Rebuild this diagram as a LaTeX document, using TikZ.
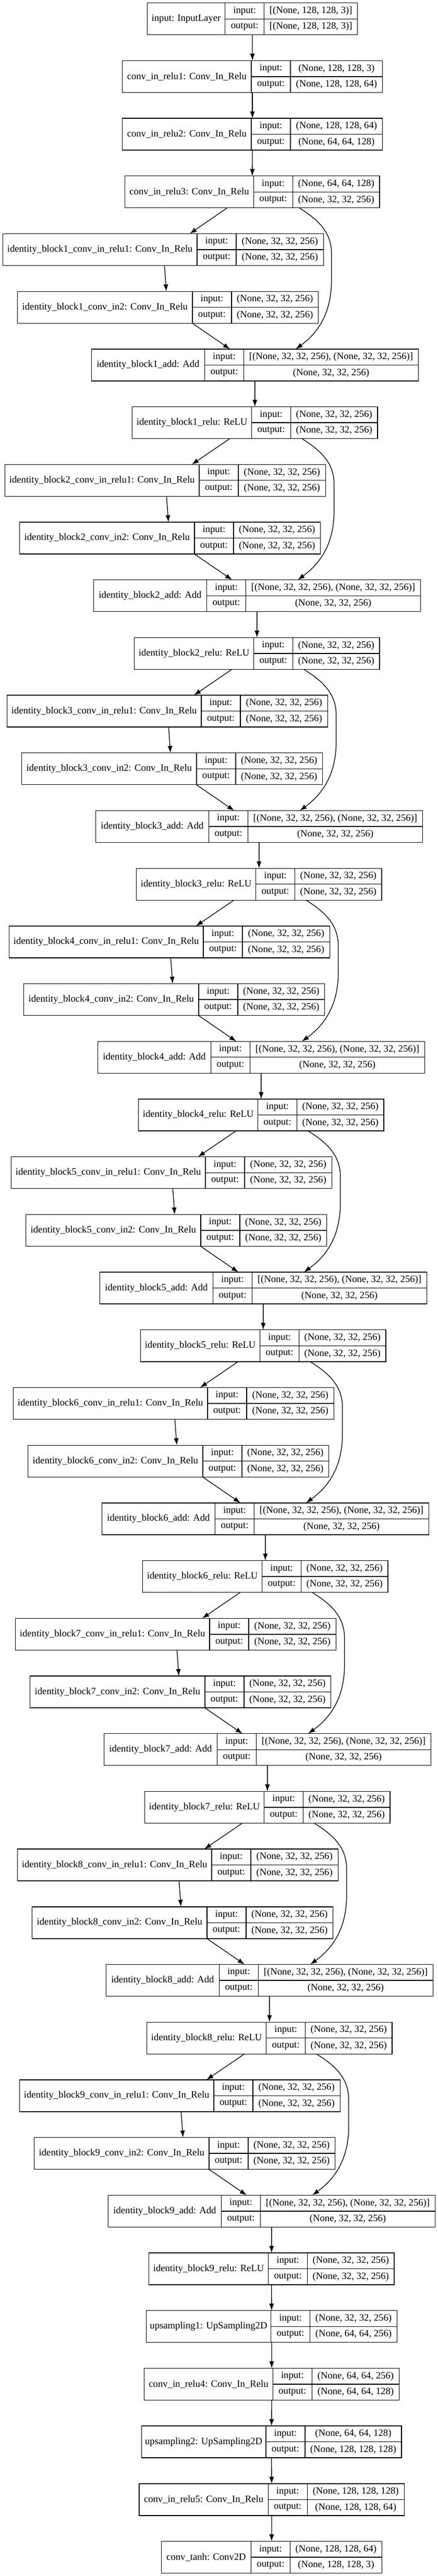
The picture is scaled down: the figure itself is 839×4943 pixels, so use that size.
\documentclass[tikz,border=0pt]{standalone}
\usepackage{fontspec}
\setmainfont{Liberation Serif}
\usetikzlibrary{arrows.meta,positioning,fit,calc}
\tikzstyle{cell} = [rectangle, draw, line width=1pt, inner sep=0pt, outer sep=0pt,
    minimum height=22.875pt, anchor=north west, font=\fontsize{14}{16}\selectfont]
\tikzstyle{namecell} = [cell, minimum height=45.75pt]
\tikzstyle{line} = [draw, line width=1pt, -{Latex[length=10pt, width=7pt]}]
% one layer: name, left x, rank, name width, shape width, title, input, output
\newcommand{\layer}[8]{%
  \node [namecell, minimum width=#4*0.75pt] (#1) at ({#2},{5.7+110.7*(#3)}) {#6};
  \node [cell, minimum width=56.25pt] (#1-il) at (#1.north east) {input:};
  \node [cell, minimum width=56.25pt] (#1-ol) at (#1-il.south west) {output:};
  \node [cell, minimum width=#5*0.75pt] (#1-iv) at (#1-il.north east) {#7};
  \node [cell, minimum width=#5*0.75pt] (#1-ov) at (#1-ol.north east) {#8};
  \node [fit=(#1)(#1-ov), inner sep=0pt, outer sep=0pt] (#1-all) {};}

\begin{document}
\begin{tikzpicture}[x=0.75pt, y=-0.75pt]
    \useasboundingbox [fill=white] (0,0) rectangle (839,4943);
    \layer{inp}{282.3}{0}{149.4}{179}{input: InputLayer}{[(None, 128, 128, 3)]}{[(None, 128, 128, 3)]}
    \layer{c1}{234.6}{1}{247.5}{176.5}{conv\_in\_relu1: Conv\_In\_Relu}{(None, 128, 128, 3)}{(None, 128, 128, 64)}
    \layer{c2}{234.6}{2}{247.5}{176.5}{conv\_in\_relu2: Conv\_In\_Relu}{(None, 128, 128, 64)}{(None, 64, 64, 128)}
    \layer{c3}{239.6}{3}{246.8}{166.5}{conv\_in\_relu3: Conv\_In\_Relu}{(None, 64, 64, 128)}{(None, 32, 32, 256)}
    \path [line] (inp-all) -- (c1-all);
    \path [line] (c1-all) -- (c2-all);
    \path [line] (c2-all) -- (c3-all);

    % identity blocks
    \foreach \k/\prev in {1/c3,2/b1-r,3/b2-r,4/b3-r,5/b4-r,6/b5-r,7/b6-r,8/b7-r,9/b8-r} {
        \pgfmathsetmacro{\off}{4*(\k-1)}
        \layer{b\k-c1}{5.4+\off}{4*\k}{372.6}{167.3}{identity\_block\k\_conv\_in\_relu1: Conv\_In\_Relu}{(None, 32, 32, 256)}{(None, 32, 32, 256)}
        \layer{b\k-c2}{33.8+\off}{4*\k+1}{335.1}{166.7}{identity\_block\k\_conv\_in2: Conv\_In\_Relu}{(None, 32, 32, 256)}{(None, 32, 32, 256)}
        \layer{b\k-a}{175.3+\off}{4*\k+2}{217.2}{335.1}{identity\_block\k\_add: Add}{[(None, 32, 32, 256), (None, 32, 32, 256)]}{(None, 32, 32, 256)}
        \layer{b\k-r}{253.6+\off}{4*\k+3}{229}{166.3}{identity\_block\k\_relu: ReLU}{(None, 32, 32, 256)}{(None, 32, 32, 256)}
        \path [line] ($(\prev-all.south)+(-48,0)$) -- ($(b\k-c1-all.north)+(51,0)$);
        \path [line] ($(b\k-c1-all.south)+(2.5,0)$) -- ($(b\k-c2-all.north)+(-3.2,0)$);
        \path [line] ($(b\k-c2-all.south)+(46.5,0)$) -- ($(b\k-a-all.north)+(-47.8,0)$);
        \path [line] ($(\prev-all.south)+(90,0)$) to[out=-32, in=90] ++(62,88) -- ++(0,50)
            to[out=-90, in=36] ($(b\k-a-all.north)+(78,0)$);
        \path [line] (b\k-a-all) -- (b\k-r-all);
    }

    \layer{up1}{280.4}{40}{239.2}{166.8}{upsampling1: UpSampling2D}{(None, 32, 32, 256)}{(None, 64, 64, 256)}
    \layer{c4}{276.7}{41}{246.6}{167.3}{conv\_in\_relu4: Conv\_In\_Relu}{(None, 64, 64, 256)}{(None, 64, 64, 128)}
    \layer{up2}{271.3}{42}{238.6}{185}{upsampling2: UpSampling2D}{(None, 64, 64, 128)}{(None, 128, 128, 128)}
    \layer{c5}{267}{43}{247.2}{186}{conv\_in\_relu5: Conv\_In\_Relu}{(None, 128, 128, 128)}{(None, 128, 128, 64)}
    \layer{tanh}{309.4}{44}{172.1}{175.8}{conv\_tanh: Conv2D}{(None, 128, 128, 64)}{(None, 128, 128, 3)}
    \path [line] (b9-r-all) -- (up1-all);
    \path [line] (up1-all) -- (c4-all);
    \path [line] (c4-all) -- (up2-all);
    \path [line] (up2-all) -- (c5-all);
    \path [line] (c5-all) -- (tanh-all);
\end{tikzpicture}
\end{document}
